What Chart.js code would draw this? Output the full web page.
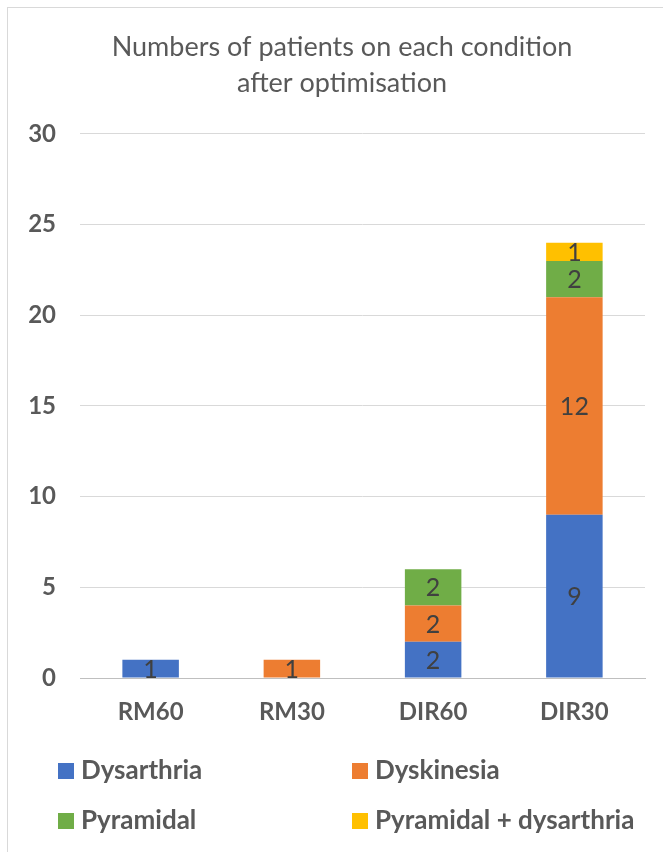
<!DOCTYPE html>
<html>
<head>
<meta charset="utf-8">
<script src="https://cdn.jsdelivr.net/npm/chart.js@4/dist/chart.umd.min.js"></script>
<style>
  html, body { margin: 0; padding: 0; background: #fff; overflow: hidden; }
  #frame { position: absolute; left: 7px; top: 7px; width: 720px; height: 900px; border: 1px solid #d9d9d9; box-sizing: border-box; }
  #wrap { position: absolute; left: 0; top: 0; width: 663px; height: 852px; }
</style>
</head>
<body>
<div id="frame"></div>
<div id="wrap"><canvas id="c" width="663" height="852"></canvas></div>
<script>
const categories = ['RM60', 'RM30', 'DIR60', 'DIR30'];
const seriesNames = ['Dysarthria', 'Dyskinesia', 'Pyramidal', 'Pyramidal + dysarthria'];
const dysarthria = [1, 0, 2, 9];
const dyskinesia = [0, 1, 2, 12];
const pyramidal = [0, 0, 2, 2];
const pyramidalDysarthria = [0, 0, 0, 1];
const yTicks = [0, 5, 10, 15, 20, 25, 30];
const titleLines = ['Numbers of patients on each condition', 'after optimisation'];
const colors = ['#4472C4', '#ED7D31', '#70AD47', '#FFC000'];

const FONT = 'Lato, "Open Sans", sans-serif';
const TEXT = '#595959';

const valueLabels = {
  id: 'valueLabels',
  afterDatasetsDraw(chart) {
    const ctx = chart.ctx;
    ctx.save();
    ctx.font = '25px ' + FONT;
    ctx.fillStyle = '#404040';
    ctx.textAlign = 'center';
    ctx.textBaseline = 'middle';
    chart.data.datasets.forEach((ds, i) => {
      const meta = chart.getDatasetMeta(i);
      meta.data.forEach((bar, j) => {
        const v = ds.data[j];
        if (!v) return;
        const p = bar.getProps(['x', 'y', 'base'], true);
        ctx.fillText(String(v), p.x, (p.y + p.base) / 2 + 1);
      });
    });
    ctx.restore();
  }
};

const gridLegend = {
  id: 'gridLegend',
  afterDraw(chart) {
    const ctx = chart.ctx;
    const a = chart.chartArea;
    ctx.save();
    ctx.font = 'bold 26px ' + FONT;
    ctx.textBaseline = 'middle';
    ctx.textAlign = 'left';
    const colX = [a.left - 22, a.left + 272];
    const rowY = [a.bottom + 92, a.bottom + 142];
    chart.data.datasets.forEach((ds, i) => {
      const x = colX[i % 2];
      const y = rowY[Math.floor(i / 2)];
      ctx.fillStyle = ds.backgroundColor;
      ctx.fillRect(x, y - 7, 16, 16);
      ctx.fillStyle = TEXT;
      ctx.fillText(ds.label, x + 23, y + 1);
    });
    ctx.restore();
  }
};

// shift the title block so it is centred where the original one is
const titleShift = {
  id: 'titleShift',
  afterLayout(chart) {
    if (chart.titleBlock) { chart.titleBlock.left = 39; }
  }
};

const seriesData = [dysarthria, dyskinesia, pyramidal, pyramidalDysarthria];

new Chart(document.getElementById('c'), {
  type: 'bar',
  data: {
    labels: categories,
    datasets: seriesNames.map((name, i) => ({
      label: name,
      data: seriesData[i],
      backgroundColor: colors[i],
      borderWidth: 0,
      barPercentage: 0.4,
      categoryPercentage: 1.0
    }))
  },
  options: {
    responsive: false,
    animation: false,
    layout: { padding: { left: 0, right: 18, top: 0, bottom: 0 } },
    plugins: {
      legend: { display: false },
      tooltip: { enabled: false },
      title: {
        display: true,
        text: titleLines,
        color: TEXT,
        font: { family: FONT, size: 27, weight: 'normal', lineHeight: 1.333 },
        padding: { top: 29, bottom: 33 }
      }
    },
    scales: {
      x: {
        stacked: true,
        grid: { display: false, drawTicks: false },
        border: { display: true, color: '#bfbfbf', width: 1 },
        ticks: { color: TEXT, font: { family: FONT, size: 24, weight: 'bold' }, padding: 20 },
        afterFit(scale) { scale.height = 174; }
      },
      y: {
        stacked: true,
        min: 0,
        max: 30,
        afterBuildTicks(scale) { scale.ticks = yTicks.map(v => ({ value: v })); },
        grid: { color: (c) => c.tick && c.tick.value === 0 ? '#bfbfbf' : '#d9d9d9', lineWidth: 1, drawTicks: false },
        border: { display: false },
        ticks: { color: TEXT, font: { family: FONT, size: 24, weight: 'bold' }, padding: 24 },
        afterFit(scale) { scale.width = 80; }
      }
    }
  },
  plugins: [valueLabels, gridLegend, titleShift]
});
</script>
</body>
</html>
